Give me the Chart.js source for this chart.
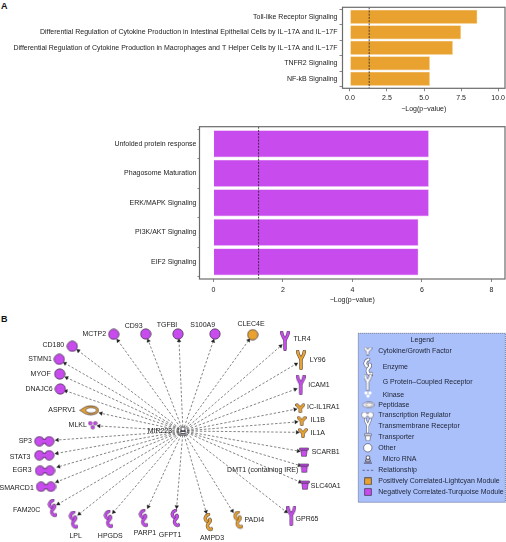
<!DOCTYPE html>
<html>
<head>
<meta charset="utf-8">
<title>Pathways and network</title>
<script src="https://cdn.jsdelivr.net/npm/chart.js@4"></script>
<style>
  html, body { margin: 0; padding: 0; background: #fff; }
  #page { position: relative; width: 506px; height: 542px; overflow: hidden; }
  canvas { position: absolute; left: 0; }
  .tag { position: absolute; left: 1px; font: bold 9px "Liberation Sans", Arial, sans-serif; color: #111; }
</style>
</head>
<body>
<div id="page">
  <div class="tag" style="top:1px">A</div>
  <div class="tag" style="top:314px">B</div>
  <canvas id="chartA" width="506" height="113" style="top:0"></canvas>
  <canvas id="chartB" width="506" height="184" style="top:120px"></canvas>
  <canvas id="chartC" width="506" height="232" style="top:310px"></canvas>
</div>
<script>
/* ===== data ===== */
const pathwaysA = [
  "Toll-like Receptor Signaling",
  "Differential Regulation of Cytokine Production in Intestinal Epithelial Cells by IL\u221217A and IL\u221217F",
  "Differential Regulation of Cytokine Production in Macrophages and T Helper Cells by IL\u221217A and IL\u221217F",
  "TNFR2 Signaling",
  "NF-kB Signaling",
];
const valuesA = [8.6, 7.5, 6.95, 5.4, 5.4];
const ticksA = [0, 2.5, 5, 7.5, 10];

const pathwaysB = [
  "Unfolded protein response",
  "Phagosome Maturation",
  "ERK/MAPK Signaling",
  "PI3K/AKT Signaling",
  "EIF2 Signaling",
];
const valuesB = [6.2, 6.2, 6.2, 5.9, 5.9];
const ticksB = [0, 2, 4, 6, 8];

const CUTOFF = 1.3;
const AXIS_TITLE = "\u2212Log(p\u2212value)";

// network on a 506 x 542 grid
const hubName = "MIR223";
const hubX = 183, hubY = 431;
const hubLabelX = 160, hubLabelY = 431;

const nodeNames = ["MCTP2","CD93","TGFBI","S100A9","CLEC4E","TLR4","LY96","ICAM1","IC-IL1RA1","IL1B","IL1A","SCARB1","DMT1 (containing IRE)","SLC40A1","GPR65","PADI4","AMPD3","GFPT1","PARP1","HPGDS","LPL","FAM20C","SMARCD1","EGR3","STAT3","SP3","MLKL","ASPRV1","DNAJC6","MYOF","STMN1","CD180"];
const nodeKinds = ["other","other","other","other","other","receptor","receptor","receptor","cytokine","cytokine","cytokine","transporter","transporter","transporter","receptor","enzyme","enzyme","enzyme","enzyme","enzyme","enzyme","enzyme","regulator","regulator","regulator","regulator","kinase","peptidase","other","other","other","other"];
const nodeModules = ["neg","neg","neg","neg","pos","neg","pos","neg","pos","pos","pos","neg","neg","neg","neg","pos","pos","neg","neg","neg","neg","neg","neg","neg","neg","neg","neg","pos","neg","neg","neg","neg"];
const nodeX = [113.7,145.7,178,215,252.7,285,301,300.7,300.3,301.7,303,304,304.3,305,291.3,237.7,208,175,143.3,108.3,73.3,52.3,46,45,44.3,44.3,92.7,89.3,60.3,59.7,59.3,72.3];
const nodeY = [334.3,334,334,334,334.7,340.7,360,384.7,408,420.7,432.7,452,468,485,516,520,522.3,518.3,518.3,519.3,520,508.3,486.7,470.7,455.3,441.3,425.3,410.3,389,374,359.3,346.3];
const arrowX = [118,148.3,179,213.3,248.7,280.7,296,295.3,295,296,297.3,298.3,299.3,300,286,232.3,206,176.7,148.3,113.7,79.3,58.3,57.3,58.7,57,57.3,99,101,66,66.7,65,78.3];
const arrowY = [340.7,340.7,340.7,341,340.3,346,364,389.3,409.3,422,432.3,451,465.3,482,511.7,511,511.7,506.7,506.7,512,514,504,481.7,466.7,453.3,440,426,413.3,391,377.7,363.3,350.7];
const labelX = [94.3,133.7,167,202.7,251,302,317.7,319,323.3,317.7,317.7,325.7,262.7,325.7,307,254.3,212,170,145,110.3,75.7,26.7,16.7,22,20,25.3,77.7,62,39,40.7,40,53.3];
const labelY = [334,326,325,325,324,339,360,384.7,407,420,432.7,452,470.3,486,519,520,538,535,533.3,535.7,535.7,510,487.7,470.3,457,441.3,425.3,410.3,388.7,373.7,359.3,345];

// legend panel
const legendTitle = "Legend";
const legendTexts = ["Cytokine/Growth Factor","Enzyme","G Protein\u2013Coupled Receptor","Kinase","Peptidase","Transcription Regulator","Transmembrane Receptor","Transporter","Other","Micro RNA","Relationship","Positively Correlated-Lightcyan Module","Negatively Correlated-Turquoise Module"];
const legendKinds = ["cytokine","enzyme","receptor","kinase","peptidase","regulator","receptor","transporter","other","mirna",null,"square","square"];
const legendModules = ["key","key","key","key","key","key","key","key","key","key",null,"pos","neg"];
const legendScale = [0.85,1,0.85,0.8,0.65,0.62,0.75,0.8,0.8,0.9,1,1,1];
const legendIconX = [368,368,368,368,368,368,368,368,368,368,368,368,368];
const legendRowY = [351,367.3,382.3,395,405.3,415,425.7,437.3,448,459.3,470.3,481.3,492];
const legendTextX = [378.3,382.7,382.7,382.7,378.3,378.3,378.3,378.3,378.3,382.7,378.3,378.3,378.3];

/* ===== styling ===== */
const FONT_FAMILY = '"Liberation Sans", Arial, sans-serif';
const TEXT = "#222";
const ORANGE = "#E9A22F";
const PURPLE = "#C84BEE";
const MODULE_COLORS = { neg: PURPLE, pos: ORANGE, key: "#fff" };
const OUTLINE = "#3a3340";

/* ===== node glyphs, used as point styles ===== */
const GLYPH_SIZES = {
  other: [12, 12], receptor: [10, 20], cytokine: [10, 10], transporter: [10, 10],
  enzyme: [10, 19], regulator: [21, 11], kinase: [10, 9], peptidase: [20, 11],
  square: [8, 8], mirna: [11, 10],
};

function strokeTwice(g, fill, width, draw) {
  g.lineCap = "round";
  g.lineJoin = "round";
  g.strokeStyle = OUTLINE;
  g.lineWidth = width + 0.9;
  g.beginPath(); draw(); g.stroke();
  g.strokeStyle = fill;
  g.lineWidth = width;
  g.beginPath(); draw(); g.stroke();
}

const GLYPHS = {
  other(g, fill) {
    g.beginPath(); g.arc(6, 6, 5.2, 0, Math.PI * 2);
    g.fillStyle = fill; g.fill(); g.strokeStyle = OUTLINE; g.lineWidth = 0.7; g.stroke();
  },
  receptor(g, fill) {
    strokeTwice(g, fill, 2.4, () => {
      g.moveTo(1.7, 1.5); g.bezierCurveTo(1.7, 6, 5, 7, 5, 10.5);
      g.moveTo(8.3, 1.5); g.bezierCurveTo(8.3, 6, 5, 7, 5, 10.5);
      g.moveTo(5, 10); g.lineTo(5, 18.6);
    });
  },
  cytokine(g, fill) {
    strokeTwice(g, fill, 2.4, () => {
      g.moveTo(1.8, 2); g.lineTo(5, 5.6); g.lineTo(8.2, 2);
      g.moveTo(5, 5.6); g.lineTo(5, 8.6);
    });
  },
  transporter(g, fill) {
    g.fillStyle = fill; g.strokeStyle = OUTLINE; g.lineWidth = 0.6;
    g.beginPath();
    g.moveTo(1.8, 3); g.lineTo(8.2, 3); g.lineTo(7.4, 9.3); g.lineTo(2.6, 9.3); g.closePath();
    g.fill(); g.stroke();
    g.beginPath(); g.rect(0.6, 1, 8.8, 2); g.fill(); g.stroke();
  },
  enzyme(g, fill) {
    strokeTwice(g, fill, 2.4, () => {
      g.moveTo(5.5, 1.5); g.bezierCurveTo(2, 3, 1, 6.5, 4, 8.5);
    });
    strokeTwice(g, fill, 2.4, () => {
      g.moveTo(6.8, 6.5); g.bezierCurveTo(9, 9.5, 3.5, 10.5, 4.5, 13.5);
      g.bezierCurveTo(5, 16.5, 7.5, 17, 8.6, 16);
    });
  },
  regulator(g, fill) {
    g.fillStyle = fill; g.strokeStyle = OUTLINE; g.lineWidth = 0.7;
    [5.6, 15.4].forEach((cx) => {
      g.beginPath(); g.arc(cx, 5.5, 4.8, 0, Math.PI * 2); g.fill(); g.stroke();
    });
    g.fillRect(7, 3.5, 7, 4);
    g.beginPath();
    g.moveTo(8.8, 3.4); g.lineTo(12.2, 3.4); g.moveTo(8.8, 7.6); g.lineTo(12.2, 7.6);
    g.stroke();
  },
  kinase(g, fill) {
    g.fillStyle = fill; g.strokeStyle = fill === "#fff" ? "#e4ecff" : OUTLINE; g.lineWidth = 0.4;
    [[2.5, 2.4], [7.5, 2.4], [5, 6.4]].forEach(([cx, cy]) => {
      g.beginPath(); g.arc(cx, cy, 1.9, 0, Math.PI * 2); g.fill(); g.stroke();
    });
  },
  peptidase(g, fill) {
    g.fillStyle = fill; g.strokeStyle = OUTLINE; g.lineWidth = 0.7;
    g.beginPath();
    g.moveTo(0.6, 5.5); g.bezierCurveTo(4, 3.5, 6, 1, 11, 1);
    g.bezierCurveTo(16, 1, 19.4, 3, 19.4, 5.5);
    g.bezierCurveTo(19.4, 8, 16, 10, 11, 10);
    g.bezierCurveTo(6, 10, 4, 7.5, 0.6, 5.5);
    g.closePath(); g.fill(); g.stroke();
    g.beginPath(); g.ellipse(11.8, 5.5, 5.4, 2.7, 0, 0, Math.PI * 2);
    g.fillStyle = "#fff"; g.fill(); g.stroke();
  },
  square(g, fill) {
    g.fillStyle = fill; g.strokeStyle = OUTLINE; g.lineWidth = 0.7;
    g.beginPath(); g.rect(0.6, 0.6, 6.8, 6.8); g.fill(); g.stroke();
  },
  mirna(g, fill) {
    g.fillStyle = fill; g.strokeStyle = OUTLINE; g.lineWidth = 0.9;
    g.beginPath(); g.arc(5.5, 3, 2.1, 0, Math.PI * 2); g.fill(); g.stroke();
    g.beginPath(); g.rect(3, 5.4, 5, 2.2); g.fill(); g.stroke();
    g.beginPath(); g.moveTo(1, 9); g.lineTo(10, 9); g.stroke();
  },
};

function makeGlyph(kind, fill, scale) {
  const [w, h] = GLYPH_SIZES[kind];
  const c = document.createElement("canvas");
  c.width = Math.ceil(w * scale);
  c.height = Math.ceil(h * scale);
  const g = c.getContext("2d");
  g.scale(scale, scale);
  GLYPHS[kind](g, fill);
  return c;
}

/* ===== bar panels ===== */
const cutoffAndFrame = {
  id: "cutoffAndFrame",
  afterDatasetsDraw(chart) {
    const { ctx, chartArea: a, scales } = chart;
    const x = scales.x.getPixelForValue(CUTOFF);
    ctx.save();
    ctx.strokeStyle = "#222";
    ctx.lineWidth = 0.8;
    ctx.setLineDash([2, 1.2]);
    ctx.beginPath(); ctx.moveTo(x, a.top); ctx.lineTo(x, a.bottom); ctx.stroke();
    ctx.setLineDash([]);
    ctx.strokeStyle = "#6b6b6b";
    ctx.lineWidth = 1.2;
    ctx.strokeRect(a.left, a.top, a.right - a.left, a.bottom - a.top);
    ctx.restore();
  },
};

function barPanel(id, labels, values, ticks, color, edge, opts) {
  return new Chart(document.getElementById(id), {
    type: "bar",
    data: {
      datasets: [{
        data: values.map((v, i) => ({ x: v, y: i })),
        backgroundColor: color,
        borderColor: edge,
        borderWidth: 0.6,
        barPercentage: 0.92,
        categoryPercentage: 1,
      }],
    },
    options: {
      indexAxis: "y",
      responsive: false,
      animation: false,
      layout: { autoPadding: false, padding: { top: opts.top, right: 1, left: 0, bottom: 0 } },
      plugins: { legend: { display: false }, tooltip: { enabled: false } },
      scales: {
        x: {
          type: "linear",
          min: opts.xMin,
          max: opts.xMax,
          afterBuildTicks: (s) => { s.ticks = ticks.map((value) => ({ value })); },
          afterFit: (s) => { s.height = opts.xHeight; s.paddingLeft = 0; s.paddingRight = 0; },
          ticks: {
            callback: opts.fmt,
            maxRotation: 0,
            color: TEXT,
            padding: opts.xPad,
            font: { family: FONT_FAMILY, size: 7 },
          },
          grid: { drawOnChartArea: false, tickLength: 3, tickColor: "#555", tickWidth: 0.7 },
          border: { display: false },
          title: {
            display: true,
            text: AXIS_TITLE,
            color: TEXT,
            padding: 0,
            font: { family: FONT_FAMILY, size: 7 },
          },
        },
        y: {
          type: "linear",
          reverse: true,
          offset: false,
          min: opts.yMin,
          max: opts.yMax,
          afterBuildTicks: (s) => { s.ticks = labels.map((_, i) => ({ value: i })); },
          afterFit: (s) => { s.width = opts.yWidth; s.paddingTop = 0; s.paddingBottom = 0; },
          ticks: {
            callback: (v) => labels[v],
            autoSkip: false,
            color: TEXT,
            padding: opts.yPad,
            font: { family: FONT_FAMILY, size: 7 },
          },
          grid: { drawOnChartArea: false, tickLength: opts.yTick, tickColor: "#555", tickWidth: 0.7 },
          border: { display: false },
        },
      },
    },
    plugins: [cutoffAndFrame],
  });
}

barPanel("chartA", pathwaysA, valuesA, ticksA, ORANGE, "#f6dcae", {
  top: 7.3, xMin: -0.5, xMax: 10.46, yMin: -0.61, yMax: 4.61,
  xHeight: 24.7, yWidth: 342.5, fmt: (v) => v.toFixed(1),
  xPad: 3, yPad: 2, yTick: 3,
});
barPanel("chartB", pathwaysB, valuesB, ticksB, PURPLE, "#ecc4f8", {
  top: 6.7, xMin: -0.4, xMax: 8.39, yMin: -0.58, yMax: 4.58,
  xHeight: 25, yWidth: 199.5, fmt: (v) => String(v),
  xPad: 4, yPad: 1, yTick: 2,
});

/* ===== network and legend panel ===== */
const nodeGlyphs = nodeKinds.map((k, i) => makeGlyph(k, MODULE_COLORS[nodeModules[i]], 1));
const hubGlyph = makeGlyph("mirna", "#fff", 1);
const legendIdx = legendKinds.map((k, i) => (k ? i : -1)).filter((i) => i >= 0);
const legendGlyphs = legendIdx.map((i) => makeGlyph(legendKinds[i], MODULE_COLORS[legendModules[i]], legendScale[i]));
const relRow = legendKinds.indexOf(null);

const arrowAngles = arrowX.map((ax, i) => Math.atan2(ax - hubX, -(arrowY[i] - hubY)) * 180 / Math.PI);

const networkText = {
  id: "networkText",
  beforeDatasetsDraw(chart) {
    const { ctx, scales: { x, y } } = chart;
    const l = x.getPixelForValue(358.3), r = x.getPixelForValue(505.4);
    const t = y.getPixelForValue(333.3), b = y.getPixelForValue(502.3);
    ctx.save();
    ctx.fillStyle = "#AAC0FA";
    ctx.fillRect(l, t, r - l, b - t);
    ctx.strokeStyle = "#3f4a6b";
    ctx.lineWidth = 0.8;
    ctx.setLineDash([1, 1]);
    ctx.strokeRect(l, t, r - l, b - t);
    ctx.restore();
  },
  afterDatasetsDraw(chart) {
    const { ctx, scales: { x, y } } = chart;
    ctx.save();
    ctx.textBaseline = "middle";
    ctx.fillStyle = TEXT;
    ctx.font = '7px ' + FONT_FAMILY;
    ctx.textAlign = "center";
    nodeNames.forEach((name, i) => {
      ctx.fillText(name, x.getPixelForValue(labelX[i]), y.getPixelForValue(labelY[i]));
    });
    ctx.fillText(hubName, x.getPixelForValue(hubLabelX), y.getPixelForValue(hubLabelY));
    ctx.fillStyle = "#1d2233";
    ctx.fillText(legendTitle, x.getPixelForValue(422.3), y.getPixelForValue(339.7));
    ctx.textAlign = "left";
    legendTexts.forEach((t, i) => {
      ctx.fillText(t, x.getPixelForValue(legendTextX[i]), y.getPixelForValue(legendRowY[i]));
    });
    ctx.restore();
  },
};

const edgeLine = { borderColor: "#333", borderWidth: 0.6, borderDash: [2.4, 1.8], pointRadius: 0, showLine: true, fill: false };

new Chart(document.getElementById("chartC"), {
  type: "scatter",
  data: {
    datasets: [
      {
        data: nodeX.map((x, i) => ({ x, y: nodeY[i] })),
        pointStyle: (c) => nodeGlyphs[c.dataIndex],
        pointRadius: 5,
      },
      {
        data: [{ x: hubX, y: hubY }],
        pointStyle: hubGlyph,
        pointRadius: 5,
      },
      {
        data: legendIdx.map((i) => ({ x: legendIconX[i], y: legendRowY[i] })),
        pointStyle: (c) => legendGlyphs[c.dataIndex],
        pointRadius: 5,
      },
      {
        data: arrowX.map((x, i) => ({ x, y: arrowY[i] })),
        pointStyle: "triangle",
        pointRadius: 2.2,
        rotation: (c) => arrowAngles[c.dataIndex],
        backgroundColor: "#222",
        borderColor: "#222",
        borderWidth: 0.3,
      },
      {
        ...edgeLine,
        data: [{ x: 362.5, y: legendRowY[relRow] }, { x: 374, y: legendRowY[relRow] }],
      },
      ...arrowX.map((x, i) => ({
        ...edgeLine,
        data: [{ x: hubX, y: hubY }, { x, y: arrowY[i] }],
      })),
    ],
  },
  options: {
    responsive: false,
    animation: false,
    layout: { autoPadding: false, padding: 0 },
    plugins: { legend: { display: false }, tooltip: { enabled: false } },
    scales: {
      x: { type: "linear", display: false, min: 0, max: 506 },
      y: { type: "linear", display: false, min: 310, max: 542, reverse: true },
    },
  },
  plugins: [networkText],
});
</script>
</body>
</html>
